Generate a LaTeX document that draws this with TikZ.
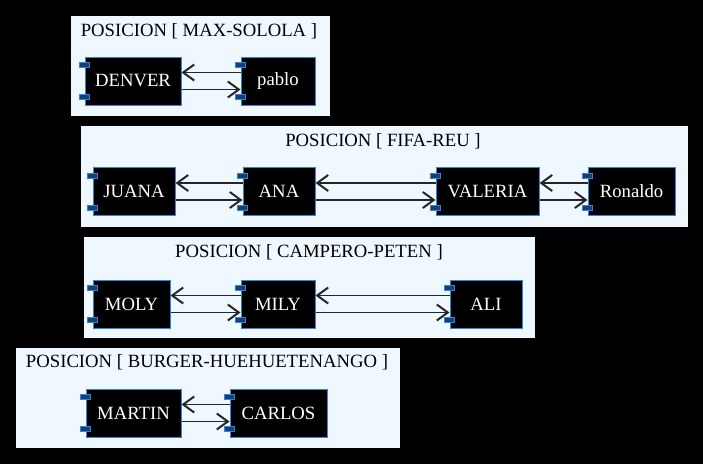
\documentclass[tikz,border=0pt]{standalone}
\usepackage{fontspec}
\setmainfont{Liberation Serif}
\usetikzlibrary{arrows.meta}
\definecolor{fondoazul}{HTML}{F0F8FF}
\definecolor{bordeazul}{HTML}{2E86DE}
\definecolor{pestana}{HTML}{1B3E6E}
\tikzset{
  cluster/.style={draw=black, fill=fondoazul},
  titulo/.style={font=\fontsize{18.7}{22}\selectfont, text=black, inner sep=0pt},
  comp/.style={draw=bordeazul, line width=1pt, fill=black, text=white, minimum height=48pt,
    inner sep=0pt, font=\fontsize{18.7}{22}\selectfont},
  tabbox/.style={draw=bordeazul, line width=0.8pt, fill=pestana},
  link/.style={draw=black!85, line width=1.5pt, -{Straight Barb[length=11pt,width=16pt,line width=2pt]}}
}
\begin{document}
\begin{tikzpicture}[x=1pt,y=-1pt]
		\fill [black] (0,0) rectangle (703,464);
		\useasboundingbox (0,0) rectangle (703,464);
		%Clusters
		\draw [cluster] (70,15) rectangle (330,116);
		\draw [cluster] (80,125) rectangle (688,227);
		\draw [cluster] (83,236) rectangle (535,338);
		\draw [cluster] (15,347) rectangle (400,448);
		\node [titulo] (t1) at (199,31) {POSICION [ MAX-SOLOLA ]};
		\node [titulo] (t2) at (383,141) {POSICION [ FIFA-REU ]};
		\node [titulo] (t3) at (309,252) {POSICION [ CAMPERO-PETEN ]};
		\node [titulo] (t4) at (207,362) {POSICION [ BURGER-HUEHUETENANGO ]};
		%MAX-SOLOLA
		\node [comp, minimum width=96pt] (denver) at (133,81) {DENVER};
		\node [comp, minimum width=74pt] (pablo) at (278,81) {pablo};
		%FIFA-REU
		\node [comp, minimum width=82pt] (juana) at (134,191.5) {JUANA};
		\node [comp, minimum width=72pt] (ana) at (279,191.5) {ANA};
		\node [comp, minimum width=103pt] (valeria) at (487.5,191.5) {VALERIA};
		\node [comp, minimum width=87pt] (ronaldo) at (631.5,191.5) {Ronaldo};
		%CAMPERO-PETEN
		\node [comp, minimum width=77pt] (moly) at (131.5,304) {MOLY};
		\node [comp, minimum width=74pt] (mily) at (278,304) {MILY};
		\node [comp, minimum width=72pt] (ali) at (486,304) {ALI};
		%BURGER-HUEHUETENANGO
		\node [comp, minimum width=95pt] (martin) at (133.5,413) {MARTIN};
		\node [comp, minimum width=97pt] (carlos) at (278.5,413) {CARLOS};
		%Pestanas
		\foreach \n in {denver,pablo,juana,ana,valeria,ronaldo,moly,mily,ali,martin,carlos}{
			\draw [tabbox] ([shift={(-5pt,-6pt)}]\n.north west) rectangle ([shift={(5pt,-11pt)}]\n.north west);
			\draw [tabbox] ([shift={(-5pt,6pt)}]\n.south west) rectangle ([shift={(5pt,11pt)}]\n.south west);
		}
		%Flechas
		\foreach \a/\b in {denver/pablo,juana/ana,ana/valeria,valeria/ronaldo,moly/mily,mily/ali,martin/carlos}{
			\draw [link] ([yshift=8.5pt]\b.west) -- ([yshift=8.5pt]\a.east);
			\draw [link] ([yshift=-8.5pt]\a.east) -- ([yshift=-8.5pt]\b.west);
		}
	\end{tikzpicture}
\end{document}
